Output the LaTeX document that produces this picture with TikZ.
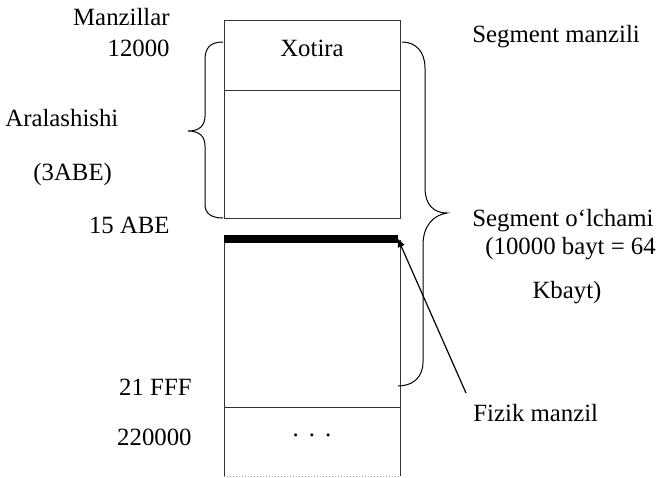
\documentclass[tikz,border=0pt]{standalone}
\usepackage{fontspec}
\setmainfont{Liberation Serif}
\usetikzlibrary{arrows.meta}
\begin{document}
\begin{tikzpicture}[x=0.5pt,y=-0.5pt,
  lbl/.style={font=\fontsize{12.4}{14}\selectfont, inner sep=0pt},
  cell/.style={draw=black!80, line width=0.5pt},
  brc/.style={draw=black, line width=0.5pt},
  ptr/.style={draw=black, line width=0.6pt, -{Triangle[length=4pt,width=3.5pt]}}]
\useasboundingbox (0,0) rectangle (672,477);
% memory blocks
\draw[cell] (224,20) rectangle (400,218);
\draw[cell] (224,90) -- (400,90);
\draw[cell] (224,240) -- (224,476);
\draw[cell] (400,240) -- (400,476);
\draw[cell] (224,407) -- (400,407);
\draw[cell, black!40, densely dotted] (224,476) -- (400,476);
% thick bar
\coordinate (barL) at (224,239);
\coordinate (barR) at (398,239);
\draw[line width=4.2pt] (barL) -- (barR);
% text nodes
\node[lbl, anchor=east] (manz) at (170,17) {Manzillar};
\node[lbl, anchor=east] (a12) at (170,48) {12000};
\node[lbl, anchor=west] (aral) at (5,118) {Aralashishi};
\node[lbl, anchor=west] (abe3) at (33,175) {(3ABE)};
\node[lbl, anchor=east] (a15) at (170,225) {15 ABE};
\node[lbl, anchor=east] (a21) at (192,387) {21 FFF};
\node[lbl, anchor=east] (a22) at (192,437) {220000};
\node[lbl] (xot) at (312,48) {Xotira};
\node[lbl, anchor=base] (dots) at (312,436) {.\hspace{5pt}.\hspace{5pt}.};
\node[lbl, anchor=west] (segm) at (472,37) {Segment manzili};
\node[lbl, anchor=west] (sego) at (472,221) {Segment o‘lchami};
\node[lbl, anchor=west] (siz) at (485,249) {(10000 bayt = 64};
\node[lbl] (kb) at (567,293) {Kbayt)};
\node[lbl, anchor=west] (fiz) at (473,413) {Fizik manzil};
% braces
\draw[brc] (223,42) .. controls (210,42) and (205,48) .. (205,60) -- (205,116)
  .. controls (205,126) and (199,131) .. (188,131)
  .. controls (199,131) and (205,136) .. (205,146) -- (205,205)
  .. controls (205,213) and (211,218) .. (223,218);
\draw[brc] (402,42) .. controls (416,42) and (425,52) .. (425,68) -- (425,188)
  .. controls (425,205) and (434,213) .. (447,213)
  .. controls (434,215) and (423,225) .. (423,245) -- (423,362)
  .. controls (423,378) and (412,386) .. (398,386);
% pointer
\coordinate (ptrS) at (466,393);
\draw[ptr] (ptrS) -- (barR);
\end{tikzpicture}
\end{document}
